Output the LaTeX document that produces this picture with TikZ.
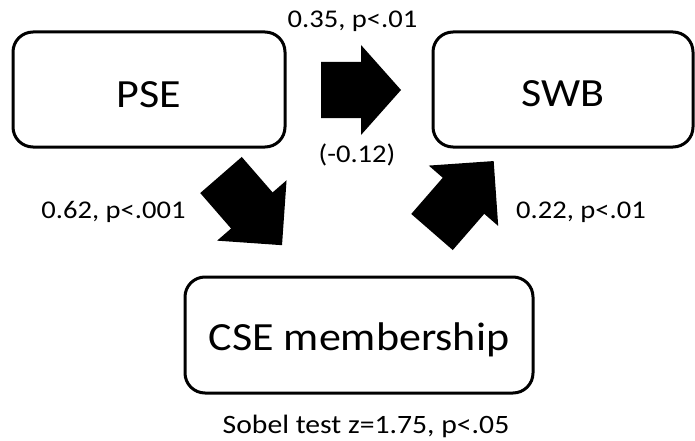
\documentclass[tikz,border=0pt]{standalone}
\usepackage{fontspec}
\setmainfont{Carlito}
\newfontfamily\bigfont[FakeStretch=1.1]{Carlito}
\newfontfamily\labfont[FakeStretch=1.12]{Carlito}
\newcommand\myblockarrow[7]{%
  \begin{scope}[shift={(#1,#2)},rotate=#3]
    \fill[black] (0,-#5/2) -- (#4-#7,-#5/2) -- (#4-#7,-#6/2) -- (#4,0)
      -- (#4-#7,#6/2) -- (#4-#7,#5/2) -- (0,#5/2) -- cycle;
  \end{scope}}
\begin{document}
\begin{tikzpicture}[x=1pt,y=-1pt,
  box/.style={draw=black,line width=3pt,rounded corners=20pt,fill=white,inner sep=0pt,
    text depth=0pt},
  big/.style={font=\bigfont\fontsize{40}{48}\selectfont},
  lab/.style={font=\labfont\fontsize{25.5}{30}\selectfont,inner sep=0pt,anchor=base},
  sob/.style={font=\labfont\fontsize{26.5}{32}\selectfont,inner sep=0pt,anchor=base}]
\useasboundingbox[fill=white] (0,0) rectangle (695,441);
\node[box,big,text height=36pt,minimum width=272pt,minimum height=115pt] (pse) at (149,89.5) {PSE};
\node[box,big,text height=34pt,minimum width=260pt,minimum height=115pt] (swb) at (563,89.5) {SWB};
\node[box,big,text height=30pt,minimum width=348pt,minimum height=116pt] (cse) at (359,335) {CSE membership};
\myblockarrow{321}{90}{0}{80}{56}{90}{40}
\myblockarrow{221}{175}{-49}{93}{55}{92}{46}
\myblockarrow{432}{232}{49}{94}{55}{92}{46}
\node[lab] (l1) at (352.5,28) {0.35, p<.01};
\node[lab] (l2) at (357,162) {(-0.12)};
\node[lab] (l3) at (113.5,218) {0.62, p<.001};
\node[lab] (l4) at (581,218) {0.22, p<.01};
\node[sob] (l5) at (366,433) {Sobel test z=1.75, p<.05};
\end{tikzpicture}
\end{document}
